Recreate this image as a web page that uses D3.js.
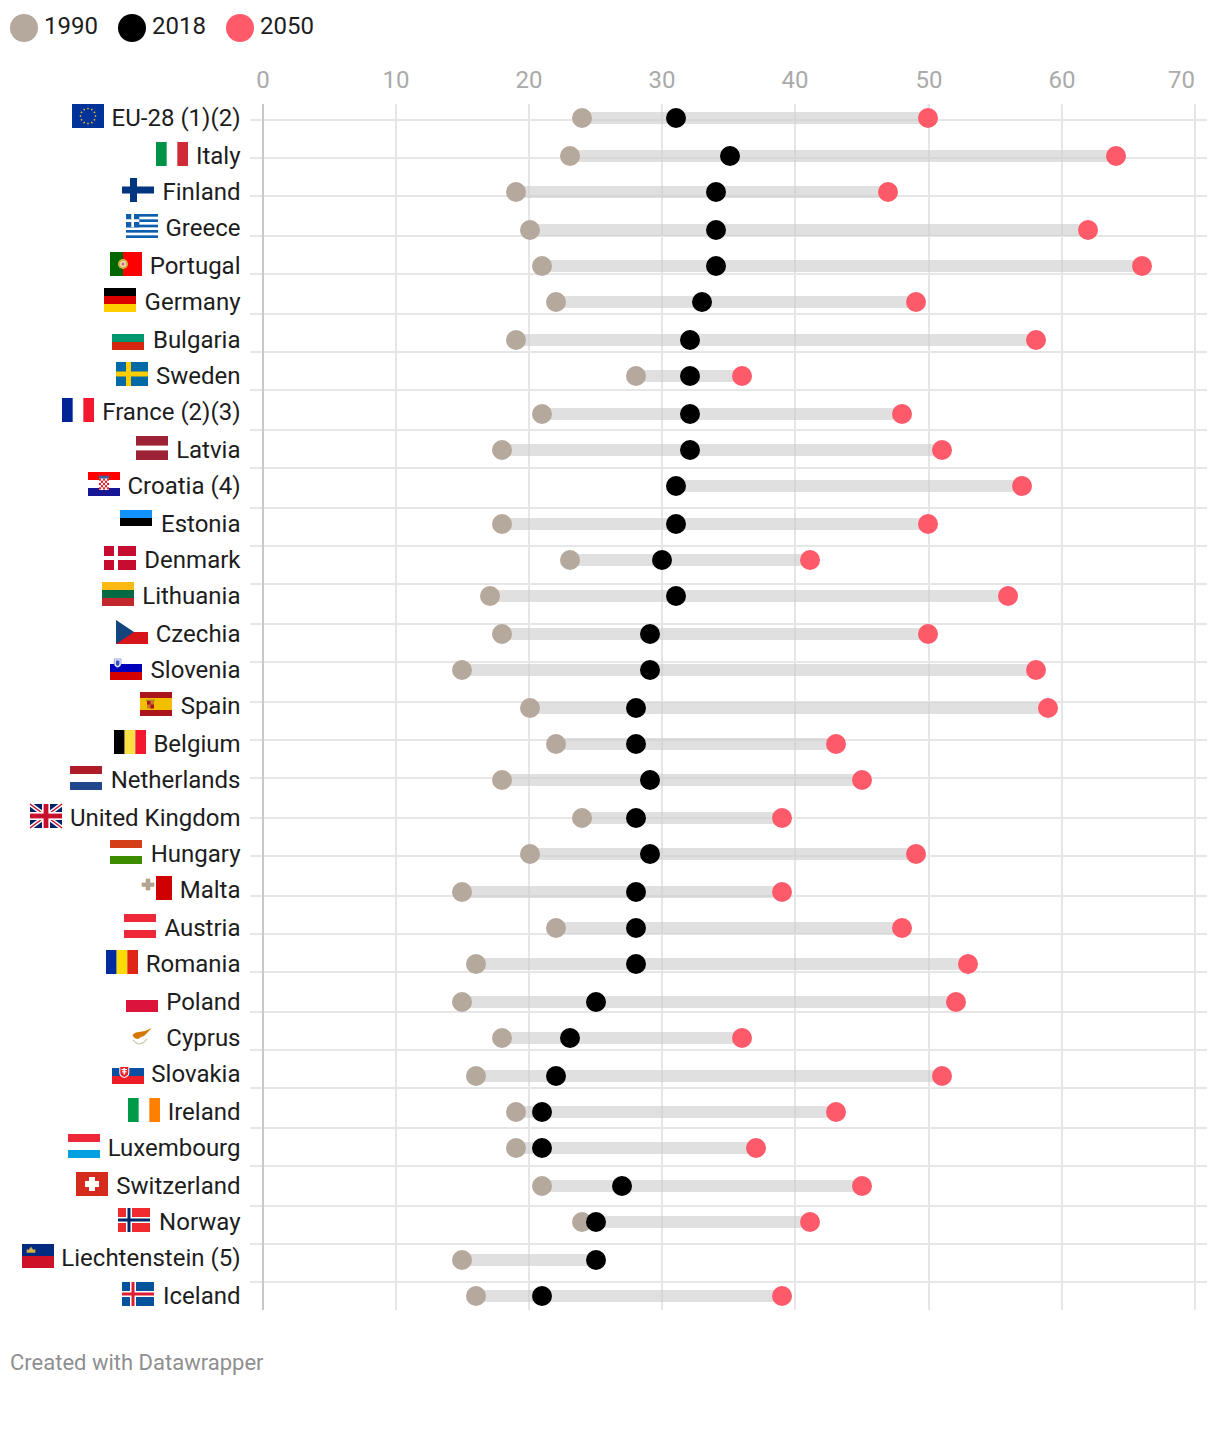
<!DOCTYPE html>
<html>
<head>
<meta charset="utf-8">
<script src="https://cdn.jsdelivr.net/npm/d3@7"></script>
<style>
html,body{margin:0;padding:0;background:#fff}
svg{display:block}
text{font-family:Roboto,sans-serif}
</style>
</head>
<body>
<svg id="chart" width="1220" height="1454"></svg>
<script>
const countries = ["EU-28 (1)(2)","Italy","Finland","Greece","Portugal","Germany","Bulgaria","Sweden","France (2)(3)","Latvia","Croatia (4)","Estonia","Denmark","Lithuania","Czechia","Slovenia","Spain","Belgium","Netherlands","United Kingdom","Hungary","Malta","Austria","Romania","Poland","Cyprus","Slovakia","Ireland","Luxembourg","Switzerland","Norway","Liechtenstein (5)","Iceland"];
const flagCodes = ["eu","it","fi","gr","pt","de","bg","se","fr","lv","hr","ee","dk","lt","cz","si","es","be","nl","gb","hu","mt","at","ro","pl","cy","sk","ie","lu","ch","no","li","is"];
const v1990 = [24,23,19,20,21,22,19,28,21,18,null,18,23,17,18,15,20,22,18,24,20,15,22,16,15,18,16,19,19,21,24,15,16];
const v2018 = [31,35,34,34,34,33,32,32,32,32,31,31,30,31,29,29,28,28,29,28,29,28,28,28,25,23,22,21,21,27,25,25,21];
const v2050 = [50,64,47,62,66,49,58,36,48,51,57,50,41,56,50,58,59,43,45,39,49,39,48,53,52,36,51,43,37,45,41,null,39];
const xTicks = [0,10,20,30,40,50,60,70];
const gridRows = d3.range(31);
const legendYears = ["1990","2018","2050"];
const yearColors = ["#b5a89c","#000000","#ff5a6a"];
const footer = "Created with Datawrapper";

const svg = d3.select("#chart");
const snap = v => 2 * Math.round(v / 2);
const x = d3.scaleLinear().domain([0,70]).range([263,1195.2]);
const dotY = d3.scaleLinear().domain([0,32]).range([118.84,1295.8]);
const labelY = d3.scaleLinear().domain([0,32]).range([118.44,1295.4]);
const gridY = d3.scaleLinear().domain([0,30]).range([119.42,1282.82]);
const FONT = 24;

// legend
const legendX = d3.scalePoint().domain(legendYears).range([24,240]);
const leg = svg.append("g").selectAll("g").data(legendYears).join("g")
  .attr("transform", d => `translate(${legendX(d)},28)`);
leg.append("circle").attr("r",14).attr("fill",(d,i)=>yearColors[i]);
leg.append("text").attr("x",20).attr("y",6).attr("font-size",FONT).attr("fill","#1d1d1d").text(d=>d);

// horizontal grid
svg.append("g").selectAll("line").data(gridRows).join("line")
  .attr("x1",250).attr("x2",1207)
  .attr("y1",d=>snap(gridY(d))).attr("y2",d=>snap(gridY(d)))
  .attr("stroke","#e6e6e6").attr("stroke-width",2);

// vertical grid + tick labels through a d3 axis
const axis = d3.axisTop(x).tickValues(xTicks).tickFormat(d3.format("d")).offset(0).tickSizeOuter(0);
const axisG = svg.append("g").attr("transform","translate(0,104)").call(axis);
axisG.select(".domain").remove();
axisG.selectAll(".tick").attr("transform",d=>`translate(${Math.round(x(d)-0.3)},0)`);
axisG.selectAll(".tick line").attr("y1",0).attr("y2",1206).attr("stroke-width",2)
  .attr("stroke",d=>d===0?"#c8c8c8":"#e6e6e6");
axisG.selectAll(".tick text").attr("y",-16).attr("dy",null)
  .attr("font-family","Roboto,sans-serif").attr("font-size",FONT).attr("fill","#aaaaaa")
  .attr("text-anchor",d=>d===70?"end":"middle");

// range bars
const rows = countries.map((c,i)=>({c,i,code:flagCodes[i],vals:[v1990[i],v2018[i],v2050[i]]}));
svg.append("g").selectAll("rect").data(rows).join("rect")
  .attr("x",d=>snap(x(d3.min(d.vals))))
  .attr("width",d=>snap(x(d3.max(d.vals)))-snap(x(d3.min(d.vals))))
  .attr("y",d=>snap(dotY(d.i))-6).attr("height",12)
  .attr("fill","#cccccc").attr("fill-opacity",0.6);

// dots: 1990, 2050, then 2018 on top
[0,2,1].forEach(k=>{
  svg.append("g").selectAll("circle").data(rows.filter(r=>r.vals[k]!==null)).join("circle")
    .attr("cx",d=>snap(x(d.vals[k]))).attr("cy",d=>snap(dotY(d.i))).attr("r",10)
    .attr("fill",yearColors[k]);
});

// flags, all in a 32x24 box
const R=(g,x0,y0,w,h,f)=>g.append("rect").attr("x",x0).attr("y",y0).attr("width",w).attr("height",h).attr("fill",f);
const P=(g,d,f,extra)=>{const p=g.append("path").attr("d",d).attr("fill",f||"none");if(extra)Object.entries(extra).forEach(([k,v])=>p.attr(k,v));return p;};
const H=(g,cols)=>cols.forEach((c,i)=>{if(c)R(g,0,i*24/cols.length,32,24/cols.length,c);});
const V=(g,cols)=>cols.forEach((c,i)=>{if(c)R(g,i*32/cols.length,0,32/cols.length,24,c);});
const NC=(g,bg,outer,inner)=>{
  R(g,0,0,32,24,bg);
  R(g,8,0,6,24,outer);R(g,0,9,32,6,outer);
  if(inner){R(g,9.5,0,3,24,inner);R(g,0,10.5,32,3,inner);}
};
const flags={
  eu:g=>{R(g,0,0,32,24,"#003399");d3.range(12).forEach(i=>{const a=i*Math.PI/6;g.append("circle").attr("cx",16+7.5*Math.sin(a)).attr("cy",12-7.5*Math.cos(a)).attr("r",.85).attr("fill","#ffcc00");});},
  it:g=>V(g,["#009246",null,"#ce2b37"]),
  fi:g=>{R(g,0,0,32,24,"#ffffff");R(g,8,0,7,24,"#003580");R(g,0,8.5,32,7,"#003580");},
  gr:g=>{d3.range(9).forEach(i=>{if(i%2==0)R(g,0,i*24/9,32,24/9,"#0d5eaf");});R(g,0,0,13.3,13.3,"#0d5eaf");R(g,5.3,0,2.7,13.3,"#fff");R(g,0,5.3,13.3,2.7,"#fff");},
  pt:g=>{R(g,0,0,13,24,"#006600");R(g,13,0,19,24,"#ff0000");g.append("circle").attr("cx",13).attr("cy",12).attr("r",5).attr("fill","#d9b43c");g.append("circle").attr("cx",13).attr("cy",12).attr("r",3).attr("fill","#e8d8c8");g.append("circle").attr("cx",13).attr("cy",12).attr("r",1.5).attr("fill","#c86a60");},
  de:g=>H(g,["#000000","#dd0000","#ffce00"]),
  bg:g=>H(g,[null,"#00966e","#d62612"]),
  se:g=>{R(g,0,0,32,24,"#006aa7");R(g,10,0,5,24,"#fecc00");R(g,0,9.5,32,5,"#fecc00");},
  fr:g=>V(g,["#002395",null,"#f31830"]),
  lv:g=>{R(g,0,0,32,9.6,"#9e2235");R(g,0,14.4,32,9.6,"#9e2235");},
  hr:g=>{H(g,["#ff0000",null,"#171796"]);R(g,11,5,10,13,"#ffffff");
    d3.range(5).forEach(r=>d3.range(5).forEach(c=>{if((r+c)%2==0)R(g,11+c*2,6.5+r*2.2,2,2.2,"#e8202a");}));
    R(g,11,3.7,10,2.8,"#3a5f9a");},
  ee:g=>H(g,["#1291ff","#000000",null]),
  dk:g=>{R(g,0,0,32,24,"#c60c30");R(g,10,0,4,24,"#fff");R(g,0,10,32,4,"#fff");},
  lt:g=>H(g,["#fdb913","#006a44","#c1272d"]),
  cz:g=>{R(g,0,12,32,12,"#d7141a");P(g,"M0 0L18 12L0 24Z","#11457e");},
  si:g=>{H(g,[null,"#0000bb","#d50000"]);P(g,"M4.3 3H11V8.5Q11 10.5 7.6 11.5Q4.3 10.5 4.3 8.5Z","#ffffff",{stroke:"#3a4ab0","stroke-width":.5});P(g,"M5.8 4.5H9.5V8Q9.5 9.4 7.6 10Q5.8 9.4 5.8 8Z","#3a50c0");},
  es:g=>{R(g,0,0,32,6,"#aa151b");R(g,0,18,32,6,"#aa151b");R(g,0,6,32,12,"#f1bf00");R(g,7,8.5,7,8,"#c9772a");R(g,7,8.5,3.5,4,"#ad1519");R(g,10.5,12.5,3.5,4,"#ad1519");P(g,"M6 7.5h9v1.5h-9z","#b88a20");},
  be:g=>V(g,["#000000","#fae042","#f31830"]),
  nl:g=>H(g,["#ae1c28",null,"#21468b"]),
  gb:g=>{R(g,0,0,32,24,"#012169");
    P(g,"M0 0L32 24M32 0L0 24",null,{stroke:"#fff","stroke-width":4.4});
    P(g,"M0 0L32 24M32 0L0 24",null,{stroke:"#c8102e","stroke-width":1.4});
    R(g,12,0,8,24,"#fff");R(g,0,8,32,8,"#fff");R(g,13.6,0,4.8,24,"#c8102e");R(g,0,9.6,32,4.8,"#c8102e");},
  hu:g=>H(g,["#d43f1a",null,"#3d8c00"]),
  mt:g=>{R(g,16,0,16,24,"#cf0000");P(g,"M6 3H10V7H14V10.5H10V14H6V10.5H2V7H6Z","#b0a59a",{stroke:"#c79a60","stroke-width":.6});},
  at:g=>H(g,["#ed2939",null,"#ed2939"]),
  ro:g=>V(g,["#002b9f","#fcdc00","#e02514"]),
  pl:g=>H(g,[null,"#dc143c"]),
  cy:g=>{P(g,"M6.5 11Q9 8 13 8L19 7L25.5 4L22 8L20.5 9.5Q19 12 15 13L12 15Q8 15 6.5 11Z","#d57800");
    P(g,"M7 16Q10 20 14 20Q18 19 21 15",null,{stroke:"#c4c4a0","stroke-width":1.2});},
  sk:g=>{H(g,[null,"#0b4ea2","#ee1c25"]);P(g,"M7.3 6H17.3V13Q17.3 16.5 12.3 18Q7.3 16.5 7.3 13Z","#ffffff");P(g,"M8.3 7H16.3V13Q16.3 15.7 12.3 17Q8.3 15.7 8.3 13Z","#ee1c25");R(g,11.5,8,1.6,6.5,"#fff");R(g,9.5,9,5.6,1.2,"#fff");R(g,10,11.2,4.6,1.2,"#fff");},
  ie:g=>V(g,["#009b48",null,"#ff7f00"]),
  lu:g=>H(g,["#ed2939",null,"#00a1de"]),
  ch:g=>{R(g,0,0,32,24,"#d52b1e");R(g,13,5,6,14,"#fff");R(g,9,9,14,6,"#fff");},
  no:g=>NC(g,"#ef2b2d","#ffffff","#002868"),
  li:g=>{H(g,["#002b7f","#ce1126"]);P(g,"M4.7 8.7H13.3V5L11.5 6L9 2.7L6.5 6L4.7 5Z","#d4b04a");},
  is:g=>NC(g,"#02529c","#ffffff","#dc1e35")
};

// labels with flags
const lab = svg.append("g").selectAll("g").data(rows).join("g")
  .attr("transform",d=>`translate(0,${snap(labelY(d.i))})`);
lab.append("text").attr("x",240.5).attr("y",8).attr("text-anchor","end")
  .attr("font-size",FONT).attr("fill","#1d1d1d").text(d=>d.c)
  .each(function(d){d.w=this.getComputedTextLength();});
lab.append("g").attr("transform",d=>`translate(${snap(240-d.w-8-32+0.25)},-14)`)
  .each(function(d){flags[d.code](d3.select(this));});

// footer
svg.append("text").attr("x",10).attr("y",1370).attr("font-size",22).attr("fill","#8f8f8f").text(footer);
</script>
</body>
</html>
